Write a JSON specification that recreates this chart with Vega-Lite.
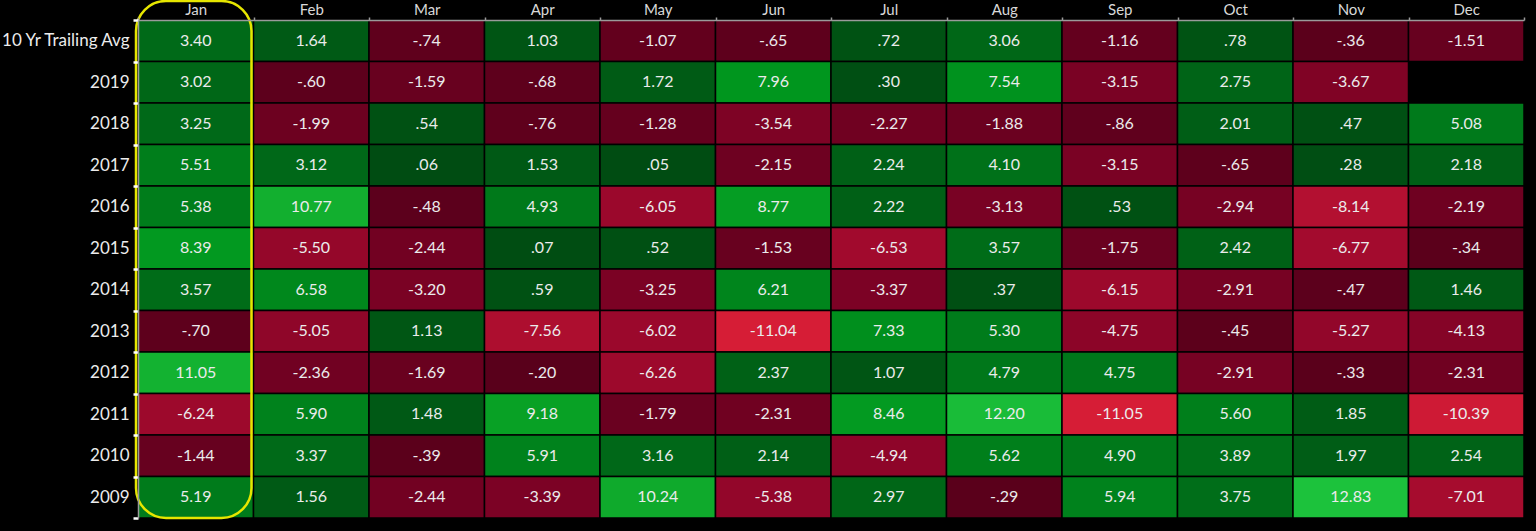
{
  "$schema": "https://vega.github.io/schema/vega-lite/v6.json",
  "width": 1386,
  "height": 498,
  "autosize": "none",
  "padding": {"left": 138, "top": 20, "right": 12, "bottom": 13},
  "background": "#000000",
  "config": {"view": {"stroke": null}, "font": "Lato"},
  "datasets": {
    "cells": [
      {"r":"10 Yr Trailing Avg","m":"Jan","v":3.40},{"r":"10 Yr Trailing Avg","m":"Feb","v":1.64},{"r":"10 Yr Trailing Avg","m":"Mar","v":-0.74},{"r":"10 Yr Trailing Avg","m":"Apr","v":1.03},{"r":"10 Yr Trailing Avg","m":"May","v":-1.07},{"r":"10 Yr Trailing Avg","m":"Jun","v":-0.65},{"r":"10 Yr Trailing Avg","m":"Jul","v":0.72},{"r":"10 Yr Trailing Avg","m":"Aug","v":3.06},{"r":"10 Yr Trailing Avg","m":"Sep","v":-1.16},{"r":"10 Yr Trailing Avg","m":"Oct","v":0.78},{"r":"10 Yr Trailing Avg","m":"Nov","v":-0.36},{"r":"10 Yr Trailing Avg","m":"Dec","v":-1.51},
      {"r":"2019","m":"Jan","v":3.02},{"r":"2019","m":"Feb","v":-0.60},{"r":"2019","m":"Mar","v":-1.59},{"r":"2019","m":"Apr","v":-0.68},{"r":"2019","m":"May","v":1.72},{"r":"2019","m":"Jun","v":7.96},{"r":"2019","m":"Jul","v":0.30},{"r":"2019","m":"Aug","v":7.54},{"r":"2019","m":"Sep","v":-3.15},{"r":"2019","m":"Oct","v":2.75},{"r":"2019","m":"Nov","v":-3.67},
      {"r":"2018","m":"Jan","v":3.25},{"r":"2018","m":"Feb","v":-1.99},{"r":"2018","m":"Mar","v":0.54},{"r":"2018","m":"Apr","v":-0.76},{"r":"2018","m":"May","v":-1.28},{"r":"2018","m":"Jun","v":-3.54},{"r":"2018","m":"Jul","v":-2.27},{"r":"2018","m":"Aug","v":-1.88},{"r":"2018","m":"Sep","v":-0.86},{"r":"2018","m":"Oct","v":2.01},{"r":"2018","m":"Nov","v":0.47},{"r":"2018","m":"Dec","v":5.08},
      {"r":"2017","m":"Jan","v":5.51},{"r":"2017","m":"Feb","v":3.12},{"r":"2017","m":"Mar","v":0.06},{"r":"2017","m":"Apr","v":1.53},{"r":"2017","m":"May","v":0.05},{"r":"2017","m":"Jun","v":-2.15},{"r":"2017","m":"Jul","v":2.24},{"r":"2017","m":"Aug","v":4.10},{"r":"2017","m":"Sep","v":-3.15},{"r":"2017","m":"Oct","v":-0.65},{"r":"2017","m":"Nov","v":0.28},{"r":"2017","m":"Dec","v":2.18},
      {"r":"2016","m":"Jan","v":5.38},{"r":"2016","m":"Feb","v":10.77},{"r":"2016","m":"Mar","v":-0.48},{"r":"2016","m":"Apr","v":4.93},{"r":"2016","m":"May","v":-6.05},{"r":"2016","m":"Jun","v":8.77},{"r":"2016","m":"Jul","v":2.22},{"r":"2016","m":"Aug","v":-3.13},{"r":"2016","m":"Sep","v":0.53},{"r":"2016","m":"Oct","v":-2.94},{"r":"2016","m":"Nov","v":-8.14},{"r":"2016","m":"Dec","v":-2.19},
      {"r":"2015","m":"Jan","v":8.39},{"r":"2015","m":"Feb","v":-5.50},{"r":"2015","m":"Mar","v":-2.44},{"r":"2015","m":"Apr","v":0.07},{"r":"2015","m":"May","v":0.52},{"r":"2015","m":"Jun","v":-1.53},{"r":"2015","m":"Jul","v":-6.53},{"r":"2015","m":"Aug","v":3.57},{"r":"2015","m":"Sep","v":-1.75},{"r":"2015","m":"Oct","v":2.42},{"r":"2015","m":"Nov","v":-6.77},{"r":"2015","m":"Dec","v":-0.34},
      {"r":"2014","m":"Jan","v":3.57},{"r":"2014","m":"Feb","v":6.58},{"r":"2014","m":"Mar","v":-3.20},{"r":"2014","m":"Apr","v":0.59},{"r":"2014","m":"May","v":-3.25},{"r":"2014","m":"Jun","v":6.21},{"r":"2014","m":"Jul","v":-3.37},{"r":"2014","m":"Aug","v":0.37},{"r":"2014","m":"Sep","v":-6.15},{"r":"2014","m":"Oct","v":-2.91},{"r":"2014","m":"Nov","v":-0.47},{"r":"2014","m":"Dec","v":1.46},
      {"r":"2013","m":"Jan","v":-0.70},{"r":"2013","m":"Feb","v":-5.05},{"r":"2013","m":"Mar","v":1.13},{"r":"2013","m":"Apr","v":-7.56},{"r":"2013","m":"May","v":-6.02},{"r":"2013","m":"Jun","v":-11.04},{"r":"2013","m":"Jul","v":7.33},{"r":"2013","m":"Aug","v":5.30},{"r":"2013","m":"Sep","v":-4.75},{"r":"2013","m":"Oct","v":-0.45},{"r":"2013","m":"Nov","v":-5.27},{"r":"2013","m":"Dec","v":-4.13},
      {"r":"2012","m":"Jan","v":11.05},{"r":"2012","m":"Feb","v":-2.36},{"r":"2012","m":"Mar","v":-1.69},{"r":"2012","m":"Apr","v":-0.20},{"r":"2012","m":"May","v":-6.26},{"r":"2012","m":"Jun","v":2.37},{"r":"2012","m":"Jul","v":1.07},{"r":"2012","m":"Aug","v":4.79},{"r":"2012","m":"Sep","v":4.75},{"r":"2012","m":"Oct","v":-2.91},{"r":"2012","m":"Nov","v":-0.33},{"r":"2012","m":"Dec","v":-2.31},
      {"r":"2011","m":"Jan","v":-6.24},{"r":"2011","m":"Feb","v":5.90},{"r":"2011","m":"Mar","v":1.48},{"r":"2011","m":"Apr","v":9.18},{"r":"2011","m":"May","v":-1.79},{"r":"2011","m":"Jun","v":-2.31},{"r":"2011","m":"Jul","v":8.46},{"r":"2011","m":"Aug","v":12.20},{"r":"2011","m":"Sep","v":-11.05},{"r":"2011","m":"Oct","v":5.60},{"r":"2011","m":"Nov","v":1.85},{"r":"2011","m":"Dec","v":-10.39},
      {"r":"2010","m":"Jan","v":-1.44},{"r":"2010","m":"Feb","v":3.37},{"r":"2010","m":"Mar","v":-0.39},{"r":"2010","m":"Apr","v":5.91},{"r":"2010","m":"May","v":3.16},{"r":"2010","m":"Jun","v":2.14},{"r":"2010","m":"Jul","v":-4.94},{"r":"2010","m":"Aug","v":5.62},{"r":"2010","m":"Sep","v":4.90},{"r":"2010","m":"Oct","v":3.89},{"r":"2010","m":"Nov","v":1.97},{"r":"2010","m":"Dec","v":2.54},
      {"r":"2009","m":"Jan","v":5.19},{"r":"2009","m":"Feb","v":1.56},{"r":"2009","m":"Mar","v":-2.44},{"r":"2009","m":"Apr","v":-3.39},{"r":"2009","m":"May","v":10.24},{"r":"2009","m":"Jun","v":-5.38},{"r":"2009","m":"Jul","v":2.97},{"r":"2009","m":"Aug","v":-0.29},{"r":"2009","m":"Sep","v":5.94},{"r":"2009","m":"Oct","v":3.75},{"r":"2009","m":"Nov","v":12.83},{"r":"2009","m":"Dec","v":-7.01}
    ],
    "highlight": [{"m": "Jan"}]
  },
  "encoding": {
    "x": {
      "field": "m", "type": "nominal",
      "sort": ["Jan","Feb","Mar","Apr","May","Jun","Jul","Aug","Sep","Oct","Nov","Dec"],
      "scale": {"paddingInner": 0, "paddingOuter": 0},
      "axis": {"orient": "top", "title": null, "labelAngle": 0, "labelColor": "#d8d8d8", "labelFontSize": 15, "labelPadding": 0,
               "domainColor": "#9a9a9a", "domainWidth": 1.5, "tickBand": "extent", "tickColor": "#9a9a9a", "tickSize": 3, "tickWidth": 1.5}
    }
  },
  "layer": [
    {
      "data": {"name": "cells"},
      "mark": {"type": "rect", "stroke": "#000000", "strokeWidth": 1.5},
      "encoding": {
        "y": {
          "field": "r", "type": "nominal",
          "sort": ["10 Yr Trailing Avg","2019","2018","2017","2016","2015","2014","2013","2012","2011","2010","2009"],
          "scale": {"paddingInner": 0, "paddingOuter": 0},
          "axis": {"title": null, "labelColor": "#ececec", "labelFontSize": 17, "labelPadding": 4,
                   "domainColor": "#9a9a9a", "domainWidth": 1.5, "tickBand": "extent", "tickColor": "#ffffff", "tickSize": 5, "tickWidth": 2.5}
        },
        "color": {
          "field": "v", "type": "quantitative", "legend": null,
          "scale": {"domain": [-11.05, -0.01, 0.01, 8, 12.83], "range": ["#d61d36", "#57001a", "#004c12", "#00961e", "#1cc23c"]}
        }
      }
    },
    {
      "data": {"name": "cells"},
      "mark": {"type": "text", "color": "#ebebeb", "fontSize": 16,
               "text": {"expr": "replace(replace(format(datum.v, '.2f'), '\u2212', '-'), regexp('^(-?)0\\\\.'), '$1.')"}},
      "encoding": {
        "y": {"field": "r", "type": "nominal",
              "sort": ["10 Yr Trailing Avg","2019","2018","2017","2016","2015","2014","2013","2012","2011","2010","2009"]}
      }
    },
    {
      "data": {"name": "highlight"},
      "mark": {"type": "rect", "filled": false, "stroke": "#e6e600", "strokeWidth": 2.5, "cornerRadius": 30,
               "xOffset": -2, "x2Offset": 2, "yOffset": -19, "y2Offset": 4},
      "encoding": {}
    }
  ]
}
